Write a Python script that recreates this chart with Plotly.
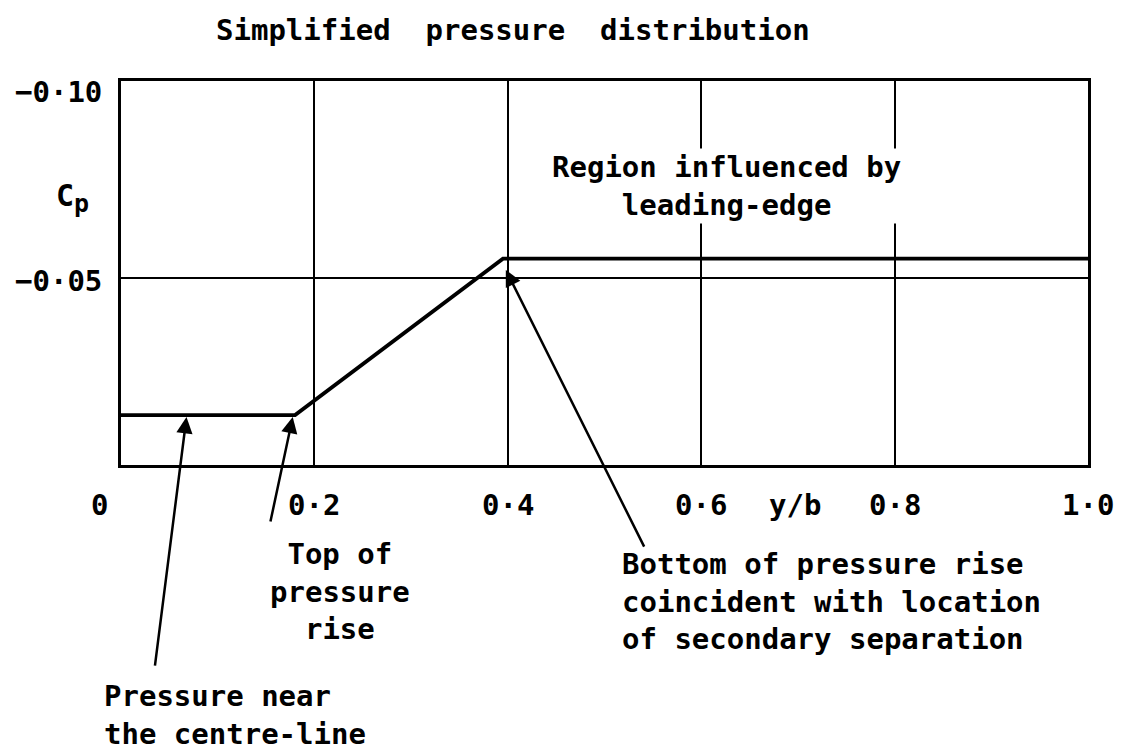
import plotly.graph_objects as go

# ---- data ----
y_over_b = [0.0, 0.18, 0.395, 1.0]
cp_values = [-0.015, -0.015, -0.0548, -0.0548]

x_tick_vals = [0.2, 0.4, 0.6, 0.8, 1.0]
x_tick_text = ["0·2", "0·4", "0·6", "0·8", "1·0"]
y_tick_vals = [-0.10, -0.05]
y_tick_text = ["−0·10", "−0·05"]

title_text = "Simplified&nbsp; pressure&nbsp; distribution"
x_title = "y/b"
y_title = "C<sub><span style='font-size:25px'>p</span></sub>"
region_text = "Region influenced by<br>leading-edge"
top_text = "Top of<br>pressure<br>rise"
bottom_text = "Bottom of pressure rise<br>coincident with location<br>of secondary separation"
centre_text = "Pressure near<br>the centre-line"

W, H = 1126, 752
L, R, T, B = 121, 38, 81, 287
PW, PH = W - L - R, H - T - B

def px(xp):
    return (xp - L) / PW

def py(yp):
    return (H - B - yp) / PH

FONT = "DejaVu Sans Mono"
fnt = dict(family=FONT, size=29, color="black", weight="bold")

fig = go.Figure()
fig.add_trace(go.Scatter(x=y_over_b, y=cp_values, mode="lines",
                         line=dict(color="black", width=3.8),
                         showlegend=False, hoverinfo="skip"))

ann = []
# title
ann.append(dict(text=title_text, xref="paper", yref="paper", x=px(513), y=py(30),
                xanchor="center", yanchor="middle", showarrow=False, font=fnt))
# x tick labels
for v, t in zip(x_tick_vals, x_tick_text):
    ann.append(dict(text=t, xref="x", yref="paper", x=v, y=py(505),
                    xanchor="center", yanchor="middle", showarrow=False, font=fnt))
ann.append(dict(text="0", xref="x", yref="paper", x=0, xshift=-22, y=py(505),
                xanchor="center", yanchor="middle", showarrow=False, font=fnt))
ann.append(dict(text=x_title, xref="paper", yref="paper", x=px(795), y=py(505),
                xanchor="center", yanchor="middle", showarrow=False, font=fnt))
# y tick labels
for v, t, s in zip(y_tick_vals, y_tick_text, [-11, -3]):
    ann.append(dict(text=t, xref="paper", yref="y", x=px(104), y=v, yshift=s,
                    xanchor="right", yanchor="middle", showarrow=False, font=fnt))
# Cp label
ann.append(dict(text=y_title, xref="paper", yref="paper", x=px(72), y=py(198),
                xanchor="center", yanchor="middle", showarrow=False,
                font=dict(family=FONT, size=30, color="black", weight="bold")))
# text labels
ann.append(dict(text=region_text, xref="paper", yref="paper", x=px(726), y=py(186),
                xanchor="center", yanchor="middle", showarrow=False, font=fnt,
                align="center", bgcolor="white"))
ann.append(dict(text=top_text, xref="paper", yref="paper", x=px(340), y=py(591),
                xanchor="center", yanchor="middle", showarrow=False, font=fnt,
                align="center"))
ann.append(dict(text=bottom_text, xref="paper", yref="paper", x=px(620), y=py(601),
                xanchor="left", yanchor="middle", showarrow=False, font=fnt,
                align="left"))
ann.append(dict(text=centre_text, xref="paper", yref="paper", x=px(102), y=py(715),
                xanchor="left", yanchor="middle", showarrow=False, font=fnt,
                align="left"))
# arrows (tip on the curve, tail offset in pixels)
arrow_style = dict(showarrow=True, arrowhead=2, arrowsize=1.3, arrowwidth=2.5,
                   arrowcolor="black", standoff=2, text="", xref="x", yref="y")
ann.append(dict(x=0.068, y=cp_values[0], ax=-32, ay=252, **arrow_style))
ann.append(dict(x=0.178, y=cp_values[1], ax=-23, ay=108, **arrow_style))
ann.append(dict(x=0.397, y=-0.0524, ax=140, ay=280, **arrow_style))

axis_common = dict(showline=True, mirror=True, linecolor="black", linewidth=3,
                   showgrid=True, gridcolor="black", gridwidth=2, zeroline=False,
                   showticklabels=False, ticks="")

fig.update_layout(
    width=W, height=H, autosize=False,
    margin=dict(l=L, r=R, t=T, b=B, pad=0),
    paper_bgcolor="white", plot_bgcolor="white",
    xaxis=dict(range=[0, 1], tickvals=x_tick_vals, **axis_common),
    yaxis=dict(range=[-0.0023, -0.10], tickvals=y_tick_vals, **axis_common),
    annotations=ann,
    showlegend=False,
)

fig.write_html("out.html", config={"displayModeBar": False},
               post_script="document.body.style.margin='0';document.body.style.overflow='hidden';")
